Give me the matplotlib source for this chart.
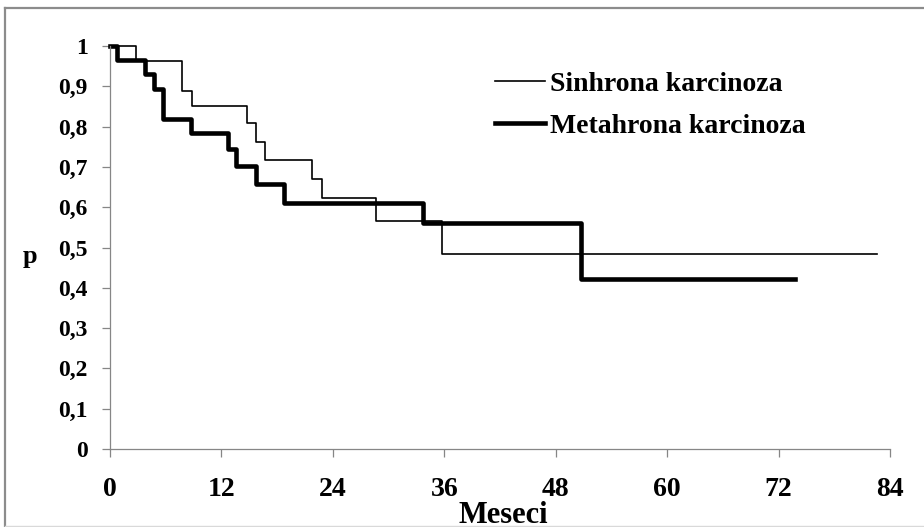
import matplotlib
matplotlib.use("Agg")
from matplotlib import pyplot as plt
from matplotlib.lines import Line2D

plt.rcParams["font.family"] = ["Liberation Serif", "DejaVu Serif"]
plt.rcParams["font.weight"] = "bold"

# Kaplan-Meier steps (months, survival)
sin_t = [0, 2.8, 7.8, 8.8, 14.8, 15.7, 16.7, 21.8, 22.8, 28.7, 35.8, 82.6]
sin_p = [1.0, 0.962, 0.889, 0.852, 0.809, 0.763, 0.716, 0.669, 0.623, 0.566, 0.484, 0.484]
met_t = [0, 0.7, 3.8, 4.7, 5.7, 8.7, 12.7, 13.6, 15.7, 18.7, 33.7, 50.7, 73.8]
met_p = [1.0, 0.966, 0.930, 0.893, 0.820, 0.785, 0.745, 0.703, 0.658, 0.611, 0.562, 0.421, 0.421]

x_ticks = [0, 12, 24, 36, 48, 60, 72, 84]
y_ticks = [0, 0.1, 0.2, 0.3, 0.4, 0.5, 0.6, 0.7, 0.8, 0.9, 1]
y_labels = ["0", "0,1", "0,2", "0,3", "0,4", "0,5", "0,6", "0,7", "0,8", "0,9", "1"]

W, H = 924, 527
fig = plt.figure(figsize=(W / 100, H / 100), dpi=100)
ax = fig.add_axes([110 / W, 1 - 449 / H, (890 - 110) / W, (449 - 46) / H])

ax.step(sin_t, sin_p, where="post", color="black", lw=1.2, clip_on=False,
        label="Sinhrona karcinoza")
ax.step(met_t, met_p, where="post", color="black", lw=3.3, clip_on=False,
        label="Metahrona karcinoza")

ax.set_xlim(0, 84)
ax.set_ylim(0, 1)
ax.set_xticks(x_ticks)
ax.set_yticks(y_ticks)
ax.set_yticklabels(y_labels)
for s in ["top", "right"]:
    ax.spines[s].set_visible(False)
for s in ["left", "bottom"]:
    ax.spines[s].set_color("#868686")
    ax.spines[s].set_linewidth(0.9)
ax.tick_params(axis="y", direction="out", length=6, width=0.9, color="#868686",
               labelsize=17, pad=10)
ax.tick_params(axis="x", direction="out", length=6, width=0.9, color="#868686",
               labelsize=20, pad=14)

fig.text(503 / W, 4 / H, "Meseci", ha="center", va="baseline", fontsize=22,
         fontweight="bold")
fig.text(30 / W, 1 - 257 / H, "p", ha="center", va="center", fontsize=19,
         fontweight="bold")

ax.legend(loc="center left", bbox_to_anchor=(495 / W, 1 - 105 / H),
          bbox_transform=fig.transFigure, frameon=False, fontsize=20,
          handlelength=1.8, handletextpad=0.18, borderpad=0, borderaxespad=0,
          labelspacing=0.6)

# chart area border
fig.add_artist(Line2D([5 / W, 5 / W], [0, 1 - 8 / H], transform=fig.transFigure,
                      color="#8c8c8c", lw=1.6))
fig.add_artist(Line2D([5 / W, 1], [1 - 8 / H, 1 - 8 / H], transform=fig.transFigure,
                      color="#8c8c8c", lw=1.6))
fig.add_artist(Line2D([5 / W, 1], [1 - 526 / H, 1 - 526 / H], transform=fig.transFigure,
                      color="#d9d9d9", lw=1.0))

fig.savefig("out.png", dpi=100)
